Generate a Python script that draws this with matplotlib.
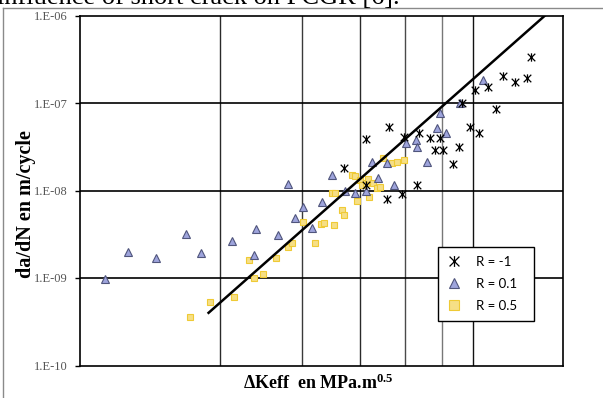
import matplotlib
matplotlib.use("Agg")
import matplotlib.pyplot as plt
from matplotlib.lines import Line2D
from matplotlib.path import Path

plt.rcParams["mathtext.fontset"] = "custom"
plt.rcParams["mathtext.rm"] = "Liberation Serif:bold"
plt.rcParams["mathtext.it"] = "Liberation Serif:bold"
plt.rcParams["mathtext.bf"] = "Liberation Serif:bold"

# R = -1
rm1_dk = [3.70, 4.12, 4.62, 4.57, 4.12, 4.93, 4.97, 5.31, 5.36, 5.66, 5.95,
          5.80, 6.04, 6.34, 6.53, 6.90, 7.21, 6.63, 7.07, 7.54, 8.12, 8.62,
          9.15, 9.33, 7.85]
rm1_dadn = [1.81e-8, 3.88e-8, 5.32e-8, 7.99e-9, 1.16e-8, 9.12e-9, 4.09e-8,
            1.16e-8, 4.54e-8, 3.98e-8, 3.98e-8, 2.90e-8, 2.90e-8, 2.01e-8,
            3.14e-8, 5.32e-8, 4.54e-8, 1.00e-7, 1.41e-7, 1.52e-7, 2.03e-7,
            1.74e-7, 1.93e-7, 3.36e-7, 8.54e-8]

# R = 0.1
r01_dk = [1.13, 1.27, 1.46, 1.69, 1.82, 2.12, 2.39, 2.37, 2.67, 2.80, 2.90,
          3.02, 3.15, 3.31, 3.48, 3.71, 3.90, 4.12, 4.25, 4.37, 4.57, 4.73,
          5.02, 5.28, 5.31, 5.58, 5.86, 6.12, 5.95, 6.56, 7.36]
r01_dadn = [9.74e-10, 1.98e-9, 1.69e-9, 3.18e-9, 1.93e-9, 2.65e-9, 3.63e-9,
            1.83e-9, 3.10e-9, 1.19e-8, 4.85e-9, 6.48e-9, 3.73e-9, 7.39e-9,
            1.50e-8, 9.87e-9, 9.36e-9, 9.87e-9, 2.12e-8, 1.39e-8, 2.06e-8,
            1.16e-8, 3.49e-8, 3.78e-8, 3.14e-8, 2.12e-8, 5.18e-8, 4.54e-8,
            7.69e-8, 1.00e-7, 1.83e-7]

# R = 0.5
r05_dk = [1.72, 1.90, 2.14, 2.31, 2.37, 2.48, 2.64, 2.80, 2.86, 3.02, 3.20,
          3.30, 3.35, 3.52, 3.66, 3.70, 3.48, 3.53, 3.84, 3.90, 3.94, 4.00,
          4.04, 4.12, 4.16, 4.27, 4.35, 4.42, 4.18, 4.48, 4.69, 4.81, 4.97]
r05_dadn = [3.58e-10, 5.32e-10, 6.07e-10, 1.61e-9, 1.00e-9, 1.11e-9, 1.69e-9,
            2.26e-9, 2.51e-9, 4.37e-9, 2.51e-9, 4.14e-9, 4.25e-9, 4.03e-9,
            5.99e-9, 5.25e-9, 9.36e-9, 9.36e-9, 1.50e-8, 1.46e-8, 7.59e-9,
            1.32e-8, 1.16e-8, 1.22e-8, 1.35e-8, 1.22e-8, 1.07e-8, 1.10e-8,
            8.43e-9, 2.35e-8, 2.06e-8, 2.12e-8, 2.23e-8]

# power-law fit line
fit_dk = [1.89, 10.0]
fit_dadn = [4.0e-10, 1.0e-6]

grid_dk = [2, 3, 4, 5, 6, 7]
y_ticks = [1e-10, 1e-9, 1e-8, 1e-7, 1e-6]
y_labels = ["1.E-10", "1.E-09", "1.E-08", "1.E-07", "1.E-06"]
series_labels = ["R = -1", "R = 0.1", "R = 0.5"]

W, H = 603, 398
fig = plt.figure(figsize=(W / 100, H / 100), dpi=100)
ax = fig.add_axes([80 / W, 1 - 365.5 / H, 483 / W, 350 / H])

# Excel style star: an X with a vertical bar
star = Path([(-1, -1), (1, 1), (-1, 1), (1, -1), (0, -1.1), (0, 1.1)],
            [Path.MOVETO, Path.LINETO, Path.MOVETO, Path.LINETO,
             Path.MOVETO, Path.LINETO])

ax.set_xscale("log")
ax.set_yscale("log")
ax.set_xlim(1.0, 10.93)
ax.set_ylim(1e-10, 1e-6)

grid_cols = ["#2a2a2a", "#3a3a3a", "#2a2a2a", "#4a4a4a", "#777777", "#111111"]
for xv, c in zip(grid_dk, grid_cols):
    ax.axvline(xv, color=c, lw=1.0, zorder=1)
for yv in y_ticks[1:-1]:
    ax.axhline(yv, color="black", lw=1.2, zorder=1)

ax.plot(r05_dk, r05_dadn, ls="none", marker="s", ms=5, mfc="#f6df86",
        mec="#efca35", mew=0.8, zorder=3, label=series_labels[2])
ax.plot(r01_dk, r01_dadn, ls="none", marker="^", ms=6, mfc="#9ea4dc",
        mec="#50557c", mew=0.8, zorder=4, label=series_labels[1])
ax.plot(rm1_dk, rm1_dadn, ls="none", marker=star, ms=6, mfc="none",
        mec="black", mew=0.9, zorder=5, label=series_labels[0])
ax.plot(fit_dk, fit_dadn, color="black", lw=1.8, zorder=6)

ax.xaxis.set_major_locator(plt.NullLocator())
ax.xaxis.set_minor_locator(plt.NullLocator())
ax.set_yticks(y_ticks)
ax.set_yticklabels(y_labels, family="Liberation Serif", fontsize=9,
                   color="#555555")
ax.yaxis.set_minor_locator(plt.NullLocator())
ax.tick_params(axis="y", direction="out", length=3.6, width=1, pad=5)
for s in ax.spines.values():
    s.set_color("black")
    s.set_linewidth(1.2)

ax.set_ylabel("da/dN en m/cycle", family="Liberation Serif",
              fontweight="bold", fontsize=14.5)
ax.yaxis.set_label_coords(-44 / 483, 0.46)
ax.set_xlabel(r"ΔKeff  en MPa.m$^{0.5}$", family="Liberation Serif",
              fontweight="bold", fontsize=13)
ax.xaxis.set_label_coords((318 - 80) / 483, -8 / 350)

h, l = ax.get_legend_handles_labels()
leg = ax.legend(h[::-1], l[::-1], loc="lower left",
                bbox_to_anchor=((438 - 80) / 483, (365.5 - 321) / 350,
                                96 / 483, 74 / 350),
                mode="expand",
                prop={"family": "Lato", "size": 9.5}, frameon=True,
                fancybox=False, framealpha=1, edgecolor="black",
                handlelength=1.0, handletextpad=1.2, labelspacing=0.75,
                borderpad=0.7, borderaxespad=0, markerscale=1.3)
leg.get_frame().set_linewidth(1.0)

# page context around the pasted chart
fig.text(-3 / W, 1 - 4.5 / H, "influence of short crack on FCGR [6].",
         family="Liberation Serif", fontsize=19, va="baseline")
fig.add_artist(Line2D([3 / W, 1], [1 - 8 / H] * 2, color="#8a8a8a", lw=1,
                      transform=fig.transFigure))
fig.add_artist(Line2D([3 / W] * 2, [0, 1 - 8 / H], color="#8a8a8a", lw=1,
                      transform=fig.transFigure))

fig.savefig("out.png", dpi=100)
